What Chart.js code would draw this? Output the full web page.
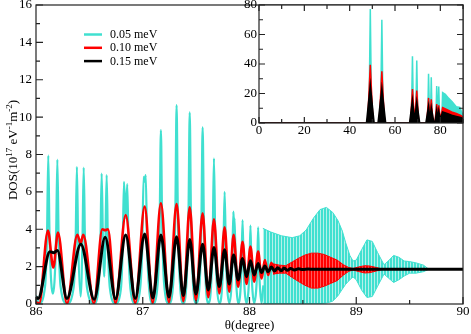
<!DOCTYPE html>
<html>
<head>
<meta charset="utf-8">
<script src="https://cdn.jsdelivr.net/npm/chart.js@4.4.1/dist/chart.umd.min.js"></script>
<style>
  html, body { margin: 0; padding: 0; background: #fff; }
  #wrap { position: relative; width: 471px; height: 334px; }
  #mainChart { position: absolute; left: 0; top: 0; }
  #insetChart { position: absolute; left: 226px; top: 0; }
</style>
</head>
<body>
<div id="wrap">
  <canvas id="mainChart" width="471" height="334"></canvas>
  <canvas id="insetChart" width="245" height="140"></canvas>
</div>
<script>
const FONT = '"Liberation Serif", "Times New Roman", serif';
const CYAN = '#40e0d0';
const RED = '#ff0000';
const BLACK = '#000000';

const legendLabels = ['0.05 meV', '0.10 meV', '0.15 meV'];
const xTitle = 'θ(degree)';
// y title pieces, true = superscript
const yTitleParts = [['DOS(10', false], ['17', true], [' eV', false], ['-1', true], ['m', false], ['-2', true], [')', false]];

// main panel ticks
const mainXTicks = [86, 87, 88, 89, 90];
const mainXMinor = [86.5, 87.5, 88.5, 89.5];
const mainYTicks = [0, 2, 4, 6, 8, 10, 12, 14, 16];
const mainYMinor = [1, 3, 5, 7, 9, 11, 13, 15];

// 0.05 meV, resolved peaks
const cyanX = [86.0, 86.03, 86.085, 86.103, 86.115, 86.127, 86.158, 86.188, 86.2, 86.212, 86.23, 86.29,
  86.353, 86.371, 86.383, 86.395, 86.418, 86.435, 86.447, 86.459, 86.477, 86.543,
  86.585, 86.603, 86.615, 86.627, 86.64, 86.65, 86.662, 86.674, 86.692, 86.745,
  86.795, 86.812, 86.824, 86.84, 86.855, 86.867, 86.885, 86.93,
  86.975, 86.995, 87.008, 87.018, 87.028, 87.041, 87.06, 87.095,
  87.14, 87.158, 87.17, 87.182, 87.2, 87.245,
  87.287, 87.305, 87.317, 87.329, 87.347, 87.38,
  87.41, 87.428, 87.44, 87.452, 87.47, 87.5,
  87.533, 87.549, 87.561, 87.573, 87.59, 87.614,
  87.64, 87.655, 87.667, 87.679, 87.695, 87.717,
  87.742, 87.755, 87.767, 87.779, 87.792, 87.81,
  87.828, 87.839, 87.849, 87.854, 87.86, 87.87, 87.88, 87.894,
  87.915, 87.925, 87.935, 87.945, 87.955, 87.972,
  87.99, 88.0, 88.009, 88.018, 88.028, 88.044,
  88.062, 88.072, 88.081, 88.09, 88.1, 88.113, 88.13];
const cyanY = [0.45, 0.05, 0.95, 3.6, 7.95, 3.6, 0.55, 3.5, 7.73, 3.5, 0.95, 0.03,
  0.9, 3.3, 7.34, 3.3, 0.4, 3.3, 7.3, 3.3, 0.9, 0.03,
  0.85, 3.1, 6.98, 3.4, 1.46, 3.4, 6.9, 3.1, 0.85, 0.03,
  0.8, 3.0, 6.54, 4.6, 6.42, 2.9, 0.8, 0.03,
  0.8, 3.0, 6.8, 6.55, 6.9, 3.0, 0.8, 0.03,
  1.1, 4.2, 9.3, 4.2, 1.1, 0.03,
  1.25, 4.8, 10.65, 4.8, 1.25, 0.05,
  1.2, 4.6, 10.25, 4.6, 1.2, 0.05,
  1.1, 4.3, 9.45, 4.3, 1.1, 0.05,
  0.95, 3.5, 7.8, 3.5, 0.95, 0.05,
  0.8, 2.7, 6.0, 2.7, 0.8, 0.05,
  0.7, 2.3, 4.94, 4.3, 4.6, 2.1, 0.7, 0.05,
  0.7, 2.1, 4.49, 2.1, 0.7, 0.05,
  0.7, 2.0, 4.2, 2.0, 0.7, 0.05,
  0.7, 1.9, 4.1, 1.9, 0.7, 0.05, 1.0];

// 0.05 meV, dense part past 88.1 (envelope)
const cyanBandX = [88.125, 88.2, 88.3, 88.4, 88.47, 88.53, 88.6, 88.66, 88.72, 88.78, 88.83, 88.87, 88.9, 88.94, 88.97,
  89.0, 89.05, 89.1, 89.15, 89.2, 89.26, 89.3, 89.35, 89.4, 89.45, 89.5, 89.56, 89.63, 89.68];
const cyanTop = [4.05, 3.85, 3.65, 3.55, 3.65, 3.95, 4.6, 5.05, 5.17, 4.9, 4.45, 3.9, 3.3, 2.6, 2.3,
  2.35, 2.9, 3.43, 3.35, 2.75, 2.1, 2.3, 2.6, 2.5, 2.3, 2.27, 2.2, 2.08, 1.86];
const cyanBottom = [0.02, 0.02, 0.02, 0.02, 0.02, 0.02, 0.02, 0.02, 0.05, 0.15, 0.45, 0.8, 1.05, 1.3, 1.45,
  1.3, 0.75, 0.35, 0.4, 0.95, 1.6, 1.4, 1.15, 1.3, 1.5, 1.65, 1.65, 1.73, 1.86];

// 0.10 meV
const redX = [86.0, 86.03, 86.112, 86.162, 86.206, 86.29, 86.387, 86.418, 86.443, 86.543,
  86.621, 86.648, 86.674, 86.745, 86.84, 86.93, 87.018, 87.093, 87.17, 87.245, 87.317, 87.38,
  87.44, 87.498, 87.561, 87.614, 87.667, 87.717, 87.767, 87.81, 87.851, 87.894, 87.935, 87.972,
  88.009, 88.044, 88.081, 88.113, 88.144, 88.175, 88.205, 88.235];
const redY = [0.1, 0.03, 3.93, 1.95, 3.82, 0.03, 3.7, 3.25, 3.7, 0.04,
  4.0, 3.95, 4.0, 0.05, 4.76, 0.05, 5.21, 0.07, 5.39, 0.1, 5.35, 0.15,
  5.17, 0.2, 4.85, 0.36, 4.53, 0.57, 4.1, 0.66, 3.7, 0.93, 3.33, 1.07,
  3.07, 1.2, 2.8, 1.37, 2.35, 1.55, 2.2, 1.6];
const redBandX = [88.22, 88.28, 88.34, 88.4, 88.46, 88.52, 88.58, 88.64, 88.7, 88.76, 88.82, 88.88, 88.93, 88.97,
  89.02, 89.08, 89.13, 89.19, 89.25];
const redTop = [2.15, 2.08, 2.05, 2.25, 2.45, 2.62, 2.72, 2.72, 2.65, 2.5, 2.35, 2.1, 1.95, 1.9,
  1.98, 2.05, 2.03, 1.95, 1.86];
const redBottom = [1.6, 1.65, 1.65, 1.42, 1.2, 1.0, 0.85, 0.85, 0.95, 1.1, 1.25, 1.55, 1.75, 1.82,
  1.74, 1.66, 1.68, 1.77, 1.86];

// 0.15 meV
const blackX = [86.0, 86.02, 86.13, 86.165, 86.2, 86.29, 86.42, 86.545, 86.648, 86.745, 86.84, 86.93,
  87.018, 87.095, 87.17, 87.245, 87.317, 87.38, 87.44, 87.498, 87.561, 87.614, 87.667, 87.717,
  87.767, 87.81, 87.851, 87.894, 87.935, 87.972, 88.009, 88.044, 88.081, 88.113, 88.144, 88.175,
  88.205, 88.235, 88.265, 88.295, 88.325, 88.355, 88.385, 88.42, 88.46, 88.5, 88.55, 88.6, 90];
const blackY = [0.38, 0.3, 2.8, 2.74, 2.86, 0.3, 3.2, 0.25, 3.57, 0.28, 3.69, 0.3,
  3.75, 0.32, 3.69, 0.38, 3.6, 0.45, 3.45, 0.53, 3.2, 0.75, 3.03, 0.93,
  2.9, 1.07, 2.62, 1.29, 2.44, 1.46, 2.32, 1.55, 2.17, 1.68, 2.03, 1.72,
  1.98, 1.76, 1.94, 1.78, 1.92, 1.8, 1.9, 1.82, 1.88, 1.84, 1.87, 1.86, 1.86];

// inset (0-90 degrees)
const insetXTicks = [0, 20, 40, 60, 80];
const insetXMinor = [10, 30, 50, 70, 90];
const insetYTicks = [0, 20, 40, 60, 80];
const insetYMinor = [10, 30, 50, 70];
const insetCyanX = [0, 48.5, 49.1, 49.7, 53.6, 54.2, 54.8, 67.2, 67.7, 68.2, 69.1, 69.6, 70.1,
  74.4, 74.8, 75.3, 75.6, 76, 76.4, 78.0, 78.4, 78.85, 79.3, 79.75, 80.6, 81, 82.2, 83.7, 85.2, 87, 88.6, 90, 90];
const insetCyanY = [0, 0, 77.3, 0, 0, 70, 0, 0, 45.3, 0, 0, 42.3, 0,
  0, 33.4, 0, 0, 31, 0, 0, 25, 0, 24.7, 0, 0, 20.6, 19.4, 16.7, 14.4, 11, 10.5, 5, 0];
const insetRedX = [0, 47.9, 49.1, 50.3, 53.0, 54.2, 55.4, 66.8, 67.7, 68.65, 69.6, 70.5,
  74.0, 74.8, 75.4, 76, 76.8, 77.6, 78.4, 78.85, 79.3, 80.0, 81, 83, 85, 87, 89, 90, 90];
const insetRedY = [0, 0, 39.5, 0, 0, 35, 0, 0, 23, 1, 22, 0,
  0, 17, 3, 16, 0, 0, 12.8, 3, 12, 2, 10.5, 9, 7.5, 6.4, 5.2, 4, 0];
const insetBlackX = [0, 47.4, 49.1, 50.8, 52.5, 54.2, 55.9, 66.4, 67.7, 68.65, 69.6, 70.9,
  73.6, 74.8, 75.4, 76, 77.2, 77.6, 78.4, 78.85, 79.3, 80.0, 81, 83, 85, 87, 89, 90, 90];
const insetBlackY = [0, 0, 25.8, 0, 0, 23.5, 0, 0, 15.5, 2, 14.4, 0,
  0, 11.4, 3, 10.5, 0, 0, 8.7, 3, 8.2, 2.5, 7.5, 6.5, 5.3, 4.5, 3.7, 3, 0];

Chart.defaults.font.family = FONT;
Chart.defaults.font.size = 13;
Chart.defaults.color = '#000';

function pts(xs, ys) {
  return xs.map((x, i) => ({ x: x, y: ys[i] }));
}

// vertical stripes, so the unresolved oscillations look like the original
function stripes(main, gap) {
  const c = document.createElement('canvas');
  c.width = 3; c.height = 4;
  const g = c.getContext('2d');
  g.fillStyle = gap; g.fillRect(0, 0, 3, 4);
  g.fillStyle = main; g.fillRect(0, 0, 2, 4);
  return g.createPattern(c, 'repeat');
}

// box + inward ticks
function drawFrame(chart, opt) {
  const { ctx, chartArea: a, scales: { x, y } } = chart;
  ctx.save();
  ctx.strokeStyle = '#222';
  ctx.lineWidth = 1.2;
  ctx.strokeRect(a.left, a.top, a.right - a.left, a.bottom - a.top);
  ctx.beginPath();
  const tick = (vals, len, isX) => {
    vals.forEach(v => {
      if (isX) {
        const px = x.getPixelForValue(v);
        ctx.moveTo(px, a.bottom); ctx.lineTo(px, a.bottom - len);
        if (opt.mirror) { ctx.moveTo(px, a.top); ctx.lineTo(px, a.top + len); }
      } else {
        const py = y.getPixelForValue(v);
        ctx.moveTo(a.left, py); ctx.lineTo(a.left + len, py);
        if (opt.mirror) { ctx.moveTo(a.right, py); ctx.lineTo(a.right - len, py); }
      }
    });
  };
  tick(opt.xMajor, opt.major, true);
  tick(opt.xMinor, opt.minor, true);
  tick(opt.yMajor, opt.major, false);
  tick(opt.yMinor, opt.minor, false);
  ctx.stroke();
  ctx.restore();
}

const mainDecor = {
  id: 'mainDecor',
  afterDatasetsDraw(chart) {
    drawFrame(chart, { xMajor: mainXTicks, xMinor: mainXMinor, yMajor: mainYTicks, yMinor: mainYMinor, major: 7, minor: 4, mirror: false });
  },
  afterDraw(chart) {
    const ctx = chart.ctx;
    const a = chart.chartArea;
    ctx.save();
    // legend
    const colors = [CYAN, RED, BLACK];
    ctx.font = '12px ' + FONT;
    ctx.textBaseline = 'middle';
    ctx.textAlign = 'left';
    legendLabels.forEach((lab, i) => {
      const ly = 34.5 + i * 13.3;
      ctx.strokeStyle = colors[i];
      ctx.lineWidth = 2.5;
      ctx.beginPath();
      ctx.moveTo(84, ly); ctx.lineTo(102, ly);
      ctx.stroke();
      ctx.fillStyle = '#000';
      ctx.fillText(lab, 110, ly + 0.5);
    });
    // x title
    ctx.font = '13px ' + FONT;
    ctx.textBaseline = 'alphabetic';
    ctx.textAlign = 'center';
    ctx.fillText(xTitle, (a.left + a.right) / 2, 329);
    // y title, rotated, with superscripts
    ctx.translate(16.5, 150);
    ctx.rotate(-Math.PI / 2);
    ctx.textAlign = 'left';
    let total = 0;
    yTitleParts.forEach(p => {
      ctx.font = (p[1] ? '9px ' : '13px ') + FONT;
      total += ctx.measureText(p[0]).width;
    });
    let cx = -total / 2;
    yTitleParts.forEach(p => {
      ctx.font = (p[1] ? '9px ' : '13px ') + FONT;
      ctx.fillText(p[0], cx, p[1] ? -5 : 0);
      cx += ctx.measureText(p[0]).width;
    });
    ctx.restore();
  }
};

const insetDecor = {
  id: 'insetDecor',
  beforeDatasetsDraw(chart) {
    const { ctx, chartArea: a } = chart;
    ctx.save();
    ctx.fillStyle = '#fff';
    ctx.fillRect(a.left, a.top, a.right - a.left, a.bottom - a.top);
    ctx.restore();
  },
  afterDatasetsDraw(chart) {
    drawFrame(chart, { xMajor: insetXTicks, xMinor: insetXMinor, yMajor: insetYTicks, yMinor: insetYMinor, major: 6, minor: 4, mirror: true });
  }
};

function fixedAxis(size, horizontal) {
  return function (s) {
    if (horizontal) {
      s.height = size; s.paddingLeft = 0; s.paddingRight = 0;
    } else {
      s.width = size; s.paddingTop = 0; s.paddingBottom = 0;
    }
  };
}

new Chart(document.getElementById('mainChart'), {
  type: 'line',
  data: {
    datasets: [
      { label: legendLabels[2], data: pts(blackX, blackY), borderColor: BLACK, borderWidth: 3, order: 0 },
      { label: legendLabels[1], data: pts(redX, redY), borderColor: RED, borderWidth: 2.6, order: 1 },
      { data: pts(redBandX, redBottom), borderColor: RED, borderWidth: 1, cubicInterpolationMode: 'default', order: 2 },
      { data: pts(redBandX, redTop), borderColor: RED, borderWidth: 1, backgroundColor: stripes(RED, '#ff5a5a'), fill: '-1', cubicInterpolationMode: 'default', order: 2 },
      { label: legendLabels[0], data: pts(cyanX, cyanY), borderColor: CYAN, borderWidth: 2.2, order: 3 },
      { data: pts(cyanBandX, cyanBottom), borderColor: CYAN, borderWidth: 1, cubicInterpolationMode: 'default', order: 4 },
      { data: pts(cyanBandX, cyanTop), borderColor: CYAN, borderWidth: 1, backgroundColor: stripes(CYAN, '#b4f1ea'), fill: '-1', cubicInterpolationMode: 'default', order: 4 }
    ]
  },
  options: {
    responsive: false,
    animation: false,
    layout: { padding: { left: 0, top: 5, right: 8, bottom: 0 } },
    elements: { point: { radius: 0 }, line: { cubicInterpolationMode: 'monotone', fill: false } },
    plugins: { legend: { display: false }, tooltip: { enabled: false } },
    scales: {
      x: {
        type: 'linear', min: 86, max: 90,
        afterBuildTicks: s => { s.ticks = mainXTicks.map(v => ({ value: v })); },
        afterFit: fixedAxis(30, true),
        grid: { display: false, drawTicks: false },
        border: { display: false },
        ticks: { padding: 0, maxRotation: 0 }
      },
      y: {
        type: 'linear', min: 0, max: 16,
        afterBuildTicks: s => { s.ticks = mainYTicks.map(v => ({ value: v })); },
        afterFit: fixedAxis(36, false),
        grid: { display: false, drawTicks: false },
        border: { display: false },
        ticks: { padding: 4 }
      }
    }
  },
  plugins: [mainDecor]
});

new Chart(document.getElementById('insetChart'), {
  type: 'line',
  data: {
    datasets: [
      { data: pts(insetBlackX, insetBlackY), borderColor: BLACK, backgroundColor: BLACK, fill: 'origin', borderWidth: 1.5, order: 0 },
      { data: pts(insetRedX, insetRedY), borderColor: RED, backgroundColor: RED, fill: 'origin', borderWidth: 1.5, order: 1 },
      { data: pts(insetCyanX, insetCyanY), borderColor: CYAN, backgroundColor: CYAN, fill: 'origin', borderWidth: 1.5, order: 2 }
    ]
  },
  options: {
    responsive: false,
    animation: false,
    layout: { padding: { left: 0, top: 5, right: 8, bottom: 0 } },
    elements: { point: { radius: 0 }, line: { tension: 0 } },
    plugins: { legend: { display: false }, tooltip: { enabled: false } },
    scales: {
      x: {
        type: 'linear', min: 0, max: 90,
        afterBuildTicks: s => { s.ticks = insetXTicks.map(v => ({ value: v })); },
        afterFit: fixedAxis(17, true),
        grid: { display: false, drawTicks: false },
        border: { display: false },
        ticks: { padding: 0, maxRotation: 0 }
      },
      y: {
        type: 'linear', min: 0, max: 80,
        afterBuildTicks: s => { s.ticks = insetYTicks.map(v => ({ value: v })); },
        afterFit: fixedAxis(33, false),
        grid: { display: false, drawTicks: false },
        border: { display: false },
        ticks: { padding: 2 }
      }
    }
  },
  plugins: [insetDecor]
});
</script>
</body>
</html>
